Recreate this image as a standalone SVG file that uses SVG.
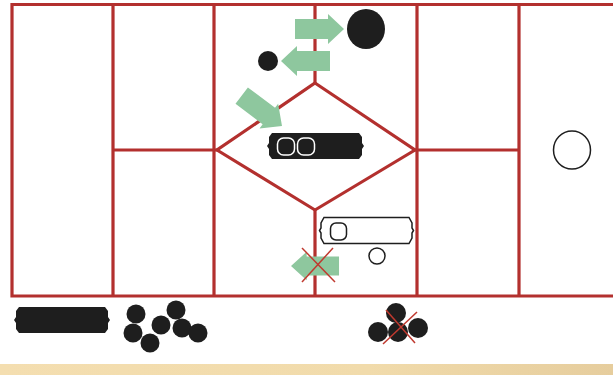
<svg xmlns="http://www.w3.org/2000/svg" width="613" height="375" viewBox="0 0 613 375">
<defs>
<linearGradient id="band" x1="0" y1="0" x2="1" y2="0">
<stop offset="0" stop-color="#f4deb0"/>
<stop offset="0.6" stop-color="#f1dbab"/>
<stop offset="1" stop-color="#e6cd9d"/>
</linearGradient>
<path id="arrow" d="M-49,-10 H-16 V-15 L0,0 L-16,15 V10 H-49 Z"/>
</defs>
<style>
.grid{stroke:#b3302e;stroke-width:3.2;fill:none;stroke-linecap:square}
.green{fill:#8ec79e}
.blk{fill:#1e1e1e}
.out{fill:#fff;stroke:#1e1e1e;stroke-width:1.5}
.wo{fill:none;stroke:#fff;stroke-width:1.5}
.xl{stroke:#c0392f;stroke-width:1.5}
</style>
<rect width="613" height="375" fill="#fff"/>
<rect x="0" y="364" width="613" height="11" fill="url(#band)"/>
<g id="grid">
<path class="grid" d="M12,296 V4.5 H613 M12,296 H613 M113,4.5 V296 M214,4.5 V296 M417,4.5 V296 M519,4.5 V296 M315,4.5 V83 M315,210 V296 M113,150 H217 M415,150 H519"/>
<path class="grid" d="M315,83 L415,150 L315,210 L217,150 Z" stroke-linejoin="miter"/>
</g>
<g id="arrows">
<use href="#arrow" class="green" transform="translate(344,29)"/>
<use href="#arrow" class="green" transform="translate(281,61) scale(-1,1)"/>
<use href="#arrow" class="green" transform="translate(282,126) rotate(37) scale(1.03)"/>
<use href="#arrow" class="green" transform="translate(291,266) scale(-0.98,0.95)"/>
<line class="xl" x1="302" y1="248" x2="335" y2="282"/>
<line class="xl" x1="333" y1="248" x2="302" y2="282"/>
</g>
<g id="big-circle"><ellipse class="blk" cx="366" cy="29" rx="19" ry="20"/></g>
<g id="small-circle"><circle class="blk" cx="268" cy="61" r="10"/></g>
<g id="black-pill">
<path class="blk" d="M272,133 H359 L362,137 V143 L364,146 L362,149 V155 L359,159 H272 L269,155 V149 L267,146 L269,143 V137 Z"/>
<rect class="wo" x="277.5" y="138" width="17" height="17" rx="6"/>
<rect class="wo" x="297.5" y="138" width="17" height="17" rx="6"/>
</g>
<g id="white-pill">
<path class="out" d="M324,217.5 H409 L412,223 V228 L413.5,230.5 L412,233 V238 L409,243.5 H324 L321,238 V233 L319.5,230.5 L321,228 V223 Z"/>
<rect class="out" x="330.5" y="223" width="16" height="17" rx="5.5"/>
</g>
<g id="tiny-circle"><circle class="out" cx="377" cy="256" r="8"/></g>
<g id="right-circle"><ellipse class="out" cx="572" cy="150" rx="18.5" ry="19"/></g>
<g id="bottom-pill">
<path class="blk" d="M19,307 H105 L108,311 V317 L110,320 L108,323 V329 L105,333 H19 L16,329 V323 L14,320 L16,317 V311 Z"/>
</g>
<g id="cluster-1" class="blk">
<circle cx="136" cy="314" r="9.5"/>
<circle cx="133" cy="333" r="9.5"/>
<circle cx="150" cy="343" r="9.5"/>
<circle cx="161" cy="325" r="9.5"/>
<circle cx="176" cy="310" r="9.5"/>
<circle cx="182" cy="328" r="9.5"/>
<circle cx="198" cy="333" r="9.5"/>
</g>
<g id="cluster-2">
<circle class="blk" cx="396" cy="313" r="10"/>
<circle class="blk" cx="378" cy="332" r="10"/>
<circle class="blk" cx="398" cy="332" r="10"/>
<circle class="blk" cx="418" cy="328" r="10"/>
<line class="xl" x1="386" y1="310" x2="415" y2="343"/>
<line class="xl" x1="417" y1="312" x2="383" y2="344"/>
</g>
</svg>
